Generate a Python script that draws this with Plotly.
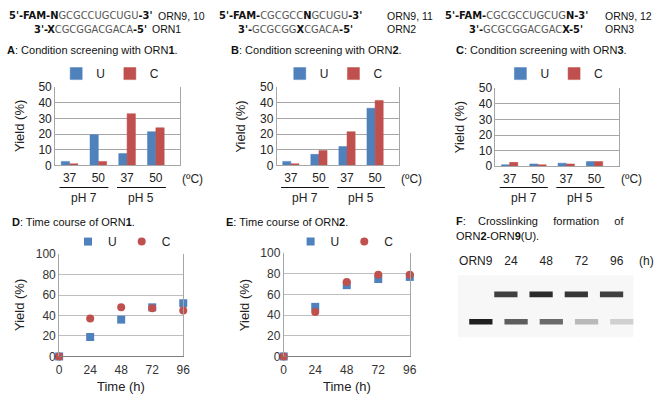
import plotly.graph_objects as go

W, H = 665, 404
FONT = "Arial, Liberation Sans, sans-serif"
SEQF = "Liberation Sans Narrow, Arial Narrow, DejaVu Sans Condensed, sans-serif"
BLUE = "#4F81BD"
RED = "#C0504D"

# ---------------- data ----------------
ph_groups = ["pH 7", "pH 7", "pH 5", "pH 5"]
temps = ["37", "50", "37", "50"]

a_U = [2.5, 19.5, 7.5, 21.5]
a_C = [1.0, 2.5, 33.0, 24.0]
b_U = [2.5, 7.0, 12.0, 36.5]
b_C = [1.0, 9.5, 21.5, 41.5]
c_U = [1.0, 1.5, 2.0, 3.0]
c_C = [2.5, 1.0, 1.5, 3.0]

time_h = [0, 24, 48, 72, 96]
d_U = [0, 19, 36, 48, 52]
d_C = [0, 37, 48, 47, 45]
e_U = [0, 48, 69, 75, 77]
e_C = [0, 43, 72, 79, 79]

gel_lanes = ["ORN9", "24", "48", "72", "96"]
gel_upper = [0.0, 0.85, 0.95, 0.90, 0.85]   # crosslinked product band intensity
gel_lower = [1.0, 0.72, 0.65, 0.28, 0.18]   # ORN9 band intensity

# ---------------- helpers ----------------
def fx(px):
    return px / W

def fy(py):
    return 1 - py / H

cats = [f"{g} {t}" for g, t in zip(ph_groups, temps)]

fig = go.Figure()
annotations = []
shapes = []

def ann(text, x, y, size=11, xanchor="left", color="#111", family=FONT, **kw):
    annotations.append(dict(text=text, x=fx(x), y=fy(y), xref="paper", yref="paper",
                            xanchor=xanchor, yanchor="middle", showarrow=False,
                            borderpad=0,
                            font=dict(size=size, color=color, family=family), **kw))

bar_panels = [
    ("", a_U, a_C, (53, 180), (83, 164), "legend", (54, 69)),
    ("2", b_U, b_C, (278, 402), (83, 164), "legend2", (281, 69)),
    ("3", c_U, c_C, (500, 625), (84, 165), "legend3", (505, 69)),
]

for suf, u, c, (x0, x1), (ytop, ybot), leg, (lx, ly) in bar_panels:
    xa = "x" + suf
    ya = "y" + suf
    for name, vals, col in (("U", u, BLUE), ("C", c, RED)):
        fig.add_trace(go.Bar(x=cats, y=vals, name=name, xaxis=xa, yaxis=ya,
                             marker=dict(color=col, line=dict(color=col, width=0.5)),
                             legend=leg, showlegend=True))
    fig.update_layout({
        "xaxis" + suf: dict(domain=[fx(x0), fx(x1)], anchor=ya, type="category",
                            range=[-0.5, 3.85], tickvals=cats, ticktext=temps,
                            tickfont=dict(size=12, color="#222", family=FONT),
                            showline=True, linecolor="#a6a6a6", ticks="", showgrid=False,
                            ticklabelstandoff=1),
        "yaxis" + suf: dict(domain=[fy(ybot), fy(ytop)], anchor=xa, range=[0, 50], dtick=10,
                            showgrid=True, gridcolor="#a6a6a6", gridwidth=1, zeroline=False,
                            showline=True, linecolor="#a6a6a6", mirror=True, ticks="",
                            tickfont=dict(size=12, color="#222", family=FONT)),
        leg: dict(orientation="h", x=fx(lx), y=fy(ly), xanchor="left", yanchor="middle",
                  font=dict(size=12, family=FONT, color="#222"), bgcolor="rgba(0,0,0,0)",
                  itemwidth=30),
    })
    span = (x1 - x0) / 4.35
    for gi, g in enumerate(["pH 7", "pH 5"]):
        cx = x0 + span * (1.0 + 2 * gi)
        shapes.append(dict(type="line", xref="paper", yref="paper",
                           x0=fx(cx - span * 0.85), x1=fx(cx + span * 0.85),
                           y0=fy(187), y1=fy(187), line=dict(color="#111", width=1.2)))
        ann(g, cx, 198, size=12, xanchor="center", color="#222")
    ann("(ºC)", x1 + 1, 178, size=12, xanchor="left", color="#222")
    ann("Yield (%)", x0 - 37, (ytop + ybot) / 2, size=13, xanchor="center",
        color="#222", textangle=-90)

# ---------------- scatter panels ----------------
sc_panels = [
    ("4", d_U, d_C, (57, 183), (256, 362), "legend4", (66, 243)),
    ("5", e_U, e_C, (285, 413), (255, 362), "legend5", (292, 243)),
]
for suf, u, c, (x0, x1), (ytop, ybot), leg, (lx, ly) in sc_panels:
    xa = "x" + suf
    ya = "y" + suf
    fig.add_trace(go.Scatter(x=time_h, y=u, mode="markers", name="U", xaxis=xa, yaxis=ya,
                             marker=dict(symbol="square", size=8, color=BLUE),
                             cliponaxis=False, legend=leg))
    fig.add_trace(go.Scatter(x=time_h, y=c, mode="markers", name="C", xaxis=xa, yaxis=ya,
                             marker=dict(symbol="circle", size=8, color=RED),
                             cliponaxis=False, legend=leg))
    fig.update_layout({
        "xaxis" + suf: dict(domain=[fx(x0), fx(x1)], anchor=ya, range=[0, 96],
                            tickvals=time_h, showgrid=False, zeroline=False,
                            showline=True, linecolor="#7f7f7f", ticks="",
                            tickfont=dict(size=12, color="#333", family=FONT),
                            ticklabelstandoff=2),
        "yaxis" + suf: dict(domain=[fy(ybot), fy(ytop)], anchor=xa, range=[0, 100],
                            dtick=20, showgrid=True, gridcolor="#bfbfbf", zeroline=False,
                            showline=True, linecolor="#a6a6a6", mirror=True, ticks="",
                            tickfont=dict(size=12, color="#333", family=FONT)),
        leg: dict(orientation="h", x=fx(lx), y=fy(ly), xanchor="left", yanchor="middle",
                  font=dict(size=12, family=FONT, color="#222"), bgcolor="rgba(0,0,0,0)",
                  itemwidth=30),
    })
    ann("Time (h)", (x0 + x1) / 2, 393, size=13, xanchor="center", color="#222")
    ann("Yield (%)", x0 - 40, (ytop + ybot) / 2, size=13, xanchor="center",
        color="#222", textangle=-90)

# ---------------- gel panel ----------------
UPPER_ROW, LOWER_ROW, BAND_H = 6.9, 3.0, 0.8
def band_color(v):
    return f"rgba(20,20,20,{0.95 * v:.2f})"

for vals, row in ((gel_upper, UPPER_ROW), (gel_lower, LOWER_ROW)):
    fig.add_trace(go.Bar(x=gel_lanes, y=[BAND_H] * len(gel_lanes),
                         base=[row - BAND_H / 2] * len(gel_lanes), width=0.66,
                         marker=dict(color=[band_color(v) for v in vals], line=dict(width=0)),
                         xaxis="x6", yaxis="y6", showlegend=False, hoverinfo="skip"))
fig.update_layout(
    xaxis6=dict(domain=[fx(458.5), fx(644.5)], anchor="y6", type="category",
                range=[-0.6, 4.6], side="top", showgrid=False, zeroline=False,
                showline=False, ticks="", tickfont=dict(size=12, color="#222", family=FONT),
                ticklabelstandoff=4),
    yaxis6=dict(domain=[fy(348), fy(275)], anchor="x6", range=[0, 10], visible=False),
)
shapes.append(dict(type="rect", xref="paper", yref="paper", layer="below",
                   x0=fx(462), x1=fx(640), y0=fy(342), y1=fy(278),
                   fillcolor="#f7f7f7", line=dict(width=0)))
ann("(h)", 645, 263, size=12, color="#222")

# ---------------- texts ----------------
ann("<b>A</b>: Condition screening with ORN<b>1</b>.", 3, 45, size=11)
ann("<b>B</b>: Condition screening with ORN<b>2</b>.", 230, 45, size=11)
ann("<b>C</b>: Condition screening with ORN<b>3</b>.", 459, 45, size=11)
ann("<b>D</b>: Time course of ORN<b>1</b>.", 8, 223, size=11)
ann("<b>E</b>: Time course of ORN<b>2</b>.", 225, 223, size=11)
ann("<b>F</b>:\u00a0\u00a0\u00a0 Crosslinking\u00a0\u00a0\u00a0\u00a0 formation\u00a0\u00a0\u00a0\u00a0 of",
    459, 222, size=11)
ann("ORN<b>2</b>-ORN<b>9</b>(U).", 459, 237, size=11)

G = "color:#555"
L1, L2 = 9, 23
ann(f"<b>5'-FAM-N</b><span style='{G}'>GCGCCUGCUGU</span><b>-3'</b>", 153, L1,
    size=11, xanchor="right", family=SEQF)
ann(f"<b>3'-X</b><span style='{G}'>CGCGGACGACA</span><b>-5'</b>", 147, L2,
    size=11, xanchor="right", family=SEQF)
ann("ORN9, 10", 156, L1, size=10.5)
ann("ORN1", 150, L2, size=10.5)

ann(f"<b>5'-FAM-</b><span style='{G}'>CGCGCC</span><b>N</b><span style='{G}'>GCUGU</span><b>-3'</b>",
    366, L1, size=11, xanchor="right", family=SEQF)
ann(f"<b>3'-</b><span style='{G}'>GCGCGG</span><b>X</b><span style='{G}'>CGACA</span><b>-5'</b>",
    356, L2, size=11, xanchor="right", family=SEQF)
ann("ORN9, 11", 389, L1, size=10.5)
ann("ORN2", 389, L2, size=10.5)

ann(f"<b>5'-FAM-</b><span style='{G}'>CGCGCCUGCUG</span><b>N-3'</b>",
    595, L1, size=11, xanchor="right", family=SEQF)
ann(f"<b>3'-</b><span style='{G}'>GCGCGGACGAC</span><b>X-5'</b>",
    590, L2, size=11, xanchor="right", family=SEQF)
ann("ORN9, 12", 610, L1, size=10.5)
ann("ORN3", 610, L2, size=10.5)

fig.update_layout(
    width=W, height=H, margin=dict(l=0, r=0, t=0, b=0),
    paper_bgcolor="white", plot_bgcolor="white",
    font=dict(family=FONT, size=11, color="#222"),
    annotations=annotations, shapes=shapes,
    barmode="group", bargap=0.42, bargroupgap=0.0,
)

fig.write_html(
    "out.html",
    config={"displayModeBar": False},
    post_script="document.body.style.margin='0';document.body.style.padding='0';"
                "document.body.style.overflow='hidden';",
)
